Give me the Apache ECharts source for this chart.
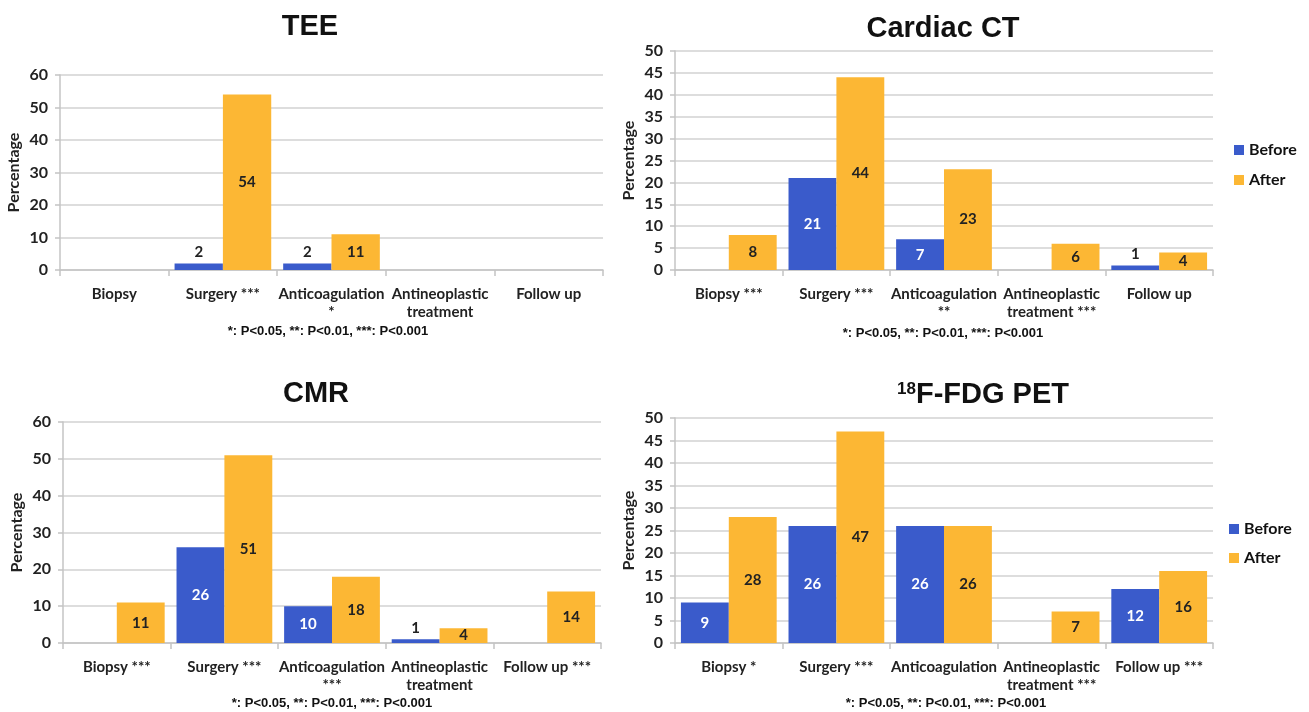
<!DOCTYPE html>
<html>
<head>
<meta charset="utf-8">
<script src="https://cdn.jsdelivr.net/npm/echarts@6/dist/echarts.min.js"></script>
<style>
  html, body { margin: 0; padding: 0; background: #fff; }
  #chart { width: 1309px; height: 712px; }
</style>
</head>
<body>
<div id="chart"></div>
<script>
// categories per panel
var teeCats = ['Biopsy', 'Surgery ***', 'Anticoagulation\n*', 'Antineoplastic\ntreatment', 'Follow up']
var ctCats = ['Biopsy ***', 'Surgery ***', 'Anticoagulation\n**', 'Antineoplastic\ntreatment ***', 'Follow up']
var cmrCats = ['Biopsy ***', 'Surgery ***', 'Anticoagulation\n***', 'Antineoplastic\ntreatment', 'Follow up ***']
var petCats = ['Biopsy *', 'Surgery ***', 'Anticoagulation', 'Antineoplastic\ntreatment ***', 'Follow up ***']

// percentages, before / after
var teeBefore = [0, 2, 2, 0, 0]
var teeAfter = [0, 54, 11, 0, 0]
var ctBefore = [0, 21, 7, 0, 1]
var ctAfter = [8, 44, 23, 6, 4]
var cmrBefore = [0, 26, 10, 1, 0]
var cmrAfter = [11, 51, 18, 4, 14]
var petBefore = [9, 26, 26, 0, 12]
var petAfter = [28, 47, 26, 7, 16]

var footnote = '*: P<0.05, **: P<0.01, ***: P<0.001'

var BLUE = '#3a5bcb'
var ORANGE = '#fcb734'
var labelFont = 'Lato, "Open Sans", sans-serif'
var textFont = '"Liberation Sans", Arial, sans-serif'
var noteFont = 'bold 13px "Liberation Sans", Arial, sans-serif'

var panels = [
  { name: 'TEE', cats: teeCats, before: teeBefore, after: teeAfter, max: 60, step: 10,
    grid: { left: 60, top: 75, width: 543, height: 195 } },
  { name: 'CT', cats: ctCats, before: ctBefore, after: ctAfter, max: 50, step: 5,
    grid: { left: 675, top: 51, width: 538, height: 219 } },
  { name: 'CMR', cats: cmrCats, before: cmrBefore, after: cmrAfter, max: 60, step: 10,
    grid: { left: 63, top: 422, width: 538, height: 221 } },
  { name: 'PET', cats: petCats, before: petBefore, after: petAfter, max: 50, step: 5,
    grid: { left: 675, top: 418, width: 538, height: 225 } }
]

// small bars get their number above the bar
function barData(values, insideColor) {
  return values.map(function(v) {
    if (v < 3) {
      return { value: v, label: { position: 'top', color: '#222', distance: 4 } }
    }
    return { value: v, label: { position: 'inside', color: insideColor } }
  })
}

var grids = []
var xAxes = []
var yAxes = []
var series = []

panels.forEach(function(p, i) {
  grids.push(p.grid)
  xAxes.push({
    type: 'category',
    gridIndex: i,
    data: p.cats,
    axisLine: { lineStyle: { color: '#c4c4c4', width: 1.5 } },
    axisTick: { show: true, length: 6, lineStyle: { color: '#c4c4c4', width: 1.5 } },
    axisLabel: {
      interval: 0,
      margin: 15,
      fontFamily: labelFont,
      fontWeight: 'bold',
      fontSize: 15,
      lineHeight: 18,
      color: '#222'
    }
  })
  yAxes.push({
    type: 'value',
    gridIndex: i,
    min: 0,
    max: p.max,
    interval: p.step,
    name: 'Percentage',
    nameLocation: 'middle',
    nameGap: 38,
    nameTextStyle: { fontFamily: labelFont, fontWeight: 'bold', fontSize: 16, color: '#222' },
    axisLine: { show: true, lineStyle: { color: '#c4c4c4', width: 1.5 } },
    axisTick: { show: true, length: 5, lineStyle: { color: '#c4c4c4', width: 1.5 } },
    axisLabel: { margin: 12, fontFamily: labelFont, fontWeight: 'bold', fontSize: 16, color: '#222' },
    splitLine: { lineStyle: { color: '#d2d2d2', width: 1.5 } }
  })
  var lbl = {
    show: true,
    fontFamily: labelFont,
    fontWeight: 'bold',
    fontSize: 15,
    formatter: function(d) { return d.value ? d.value : '' }
  }
  series.push({
    name: 'Before', type: 'bar', xAxisIndex: i, yAxisIndex: i,
    barGap: '0%', barCategoryGap: '11%',
    itemStyle: { color: BLUE },
    label: lbl,
    data: barData(p.before, '#fff')
  })
  series.push({
    name: 'After', type: 'bar', xAxisIndex: i, yAxisIndex: i,
    barGap: '0%', barCategoryGap: '11%',
    itemStyle: { color: ORANGE },
    label: lbl,
    data: barData(p.after, '#222')
  })
})

var titleStyle = { fontFamily: textFont, fontWeight: 'bold', fontSize: 29, color: '#111' }
var legendText = { fontFamily: labelFont, fontWeight: 'bold', fontSize: 16, color: '#111' }

var option = {
  backgroundColor: '#fff',
  animation: false,
  title: [
    { text: 'TEE', left: 305, top: 22, textAlign: 'center', textVerticalAlign: 'middle', textStyle: titleStyle },
    { text: 'Cardiac CT', left: 938, top: 24, textAlign: 'center', textVerticalAlign: 'middle', textStyle: titleStyle },
    { text: 'CMR', left: 311, top: 389, textAlign: 'center', textVerticalAlign: 'middle', textStyle: titleStyle },
    {
      text: '{sup|18}F-FDG PET',
      left: 978, top: 390, textAlign: 'center', textVerticalAlign: 'middle',
      textStyle: Object.assign({}, titleStyle, {
        rich: {
          sup: { fontFamily: textFont, fontWeight: 'bold', fontSize: 17, color: '#111', verticalAlign: 'top', padding: [0, 0, 12, 0] }
        }
      })
    }
  ],
  legend: [
    {
      data: ['Before', 'After'], orient: 'vertical', left: 1229, top: 137,
      itemWidth: 10, itemHeight: 10, itemGap: 14, icon: 'rect',
      textStyle: legendText
    },
    {
      data: ['Before', 'After'], orient: 'vertical', left: 1224, top: 516,
      itemWidth: 10, itemHeight: 10, itemGap: 13, icon: 'rect',
      textStyle: legendText
    }
  ],
  graphic: [
    { type: 'text', x: 328, y: 331, style: { text: footnote, fill: '#111', font: noteFont, textAlign: 'center', textVerticalAlign: 'middle' } },
    { type: 'text', x: 943, y: 333, style: { text: footnote, fill: '#111', font: noteFont, textAlign: 'center', textVerticalAlign: 'middle' } },
    { type: 'text', x: 332, y: 703, style: { text: footnote, fill: '#111', font: noteFont, textAlign: 'center', textVerticalAlign: 'middle' } },
    { type: 'text', x: 946, y: 703, style: { text: footnote, fill: '#111', font: noteFont, textAlign: 'center', textVerticalAlign: 'middle' } }
  ],
  grid: grids,
  xAxis: xAxes,
  yAxis: yAxes,
  series: series
}

var myChart = echarts.init(document.getElementById('chart'))
myChart.setOption(option)
</script>
</body>
</html>
